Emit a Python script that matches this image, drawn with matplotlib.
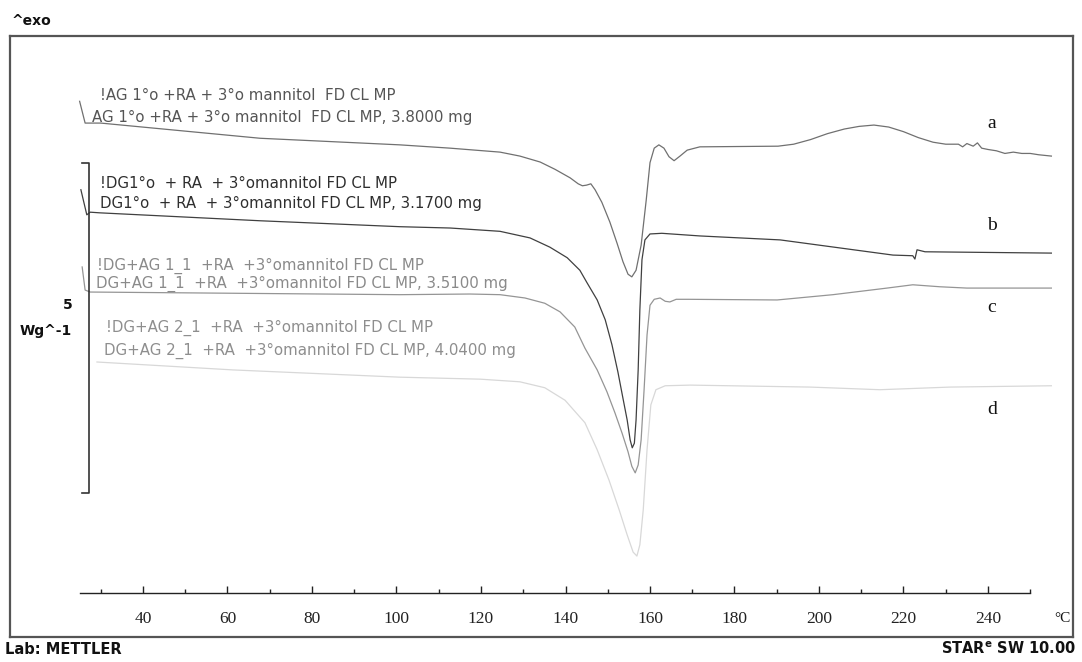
import numpy as np
import matplotlib.pyplot as plt
from matplotlib.ticker import FixedLocator

# DSC curves (temperature in degC, heat flow in W/g with offsets)
temp_a = [25.0, 26.3, 30.0, 67.7, 100.8, 112.7, 124.5, 129.2, 134.0, 137.5, 141.1, 143.0,
          144.0, 145.0, 146.0, 147.0, 148.6, 150.5, 152.2, 153.6, 154.8, 155.7, 156.7,
          157.9, 159.1, 160.0, 161.0, 162.1, 163.3, 164.5, 165.7, 167.1, 168.8, 171.8,
          190.3, 194.0, 198.0, 202.0, 206.0, 209.5, 213.0, 216.5, 220.0, 223.5, 227.0,
          230.0, 233.0, 234.0, 235.0, 236.5, 237.5, 238.5, 240.0, 242.0, 244.0, 246.0,
          248.0, 250.0, 252.0, 255.0]
hf_a = [7.45, 7.12, 7.12, 6.89, 6.79, 6.74, 6.68, 6.62, 6.53, 6.42, 6.29, 6.20,
        6.17, 6.18, 6.20, 6.11, 5.92, 5.62, 5.30, 5.02, 4.83, 4.79, 4.89,
        5.27, 5.95, 6.52, 6.74, 6.79, 6.74, 6.61, 6.55, 6.62, 6.71, 6.76,
        6.77, 6.80, 6.87, 6.96, 7.03, 7.07, 7.09, 7.06, 6.99, 6.90, 6.83,
        6.80, 6.80, 6.76, 6.81, 6.77, 6.82, 6.74, 6.72, 6.70, 6.66, 6.68,
        6.66, 6.66, 6.64, 6.62]

temp_b = [25.3, 26.7, 27.5, 29.8, 67.7, 100.8, 112.7, 124.5, 131.6, 136.3, 140.4, 143.4,
          145.1, 147.5, 149.4, 151.0, 152.4, 153.6, 154.6, 155.3, 155.8, 156.3, 156.7,
          157.2, 157.6, 158.1, 158.8, 160.0, 162.8, 171.8, 190.8, 217.5, 222.2, 222.7,
          223.2, 225.1, 255.0]
hf_b = [6.11, 5.73, 5.77, 5.76, 5.64, 5.55, 5.53, 5.48, 5.38, 5.24, 5.08, 4.89,
        4.70, 4.44, 4.14, 3.76, 3.35, 2.95, 2.62, 2.32, 2.20, 2.27, 2.62,
        3.38, 4.29, 5.05, 5.35, 5.44, 5.45, 5.41, 5.35, 5.12, 5.11, 5.06,
        5.20, 5.17, 5.15]

temp_c = [25.6, 26.3, 27.5, 100.8, 117.4, 124.5, 130.4, 135.1, 138.7, 142.2, 144.6, 147.5,
          149.8, 151.7, 153.4, 154.8, 155.7, 156.5, 157.2, 157.9, 158.6, 159.3, 160.0,
          161.0, 162.4, 163.6, 164.7, 166.2, 169.0, 190.1, 203.3, 216.1, 222.2, 228.6,
          235.0, 255.0]
hf_c = [4.94, 4.59, 4.56, 4.52, 4.53, 4.52, 4.47, 4.39, 4.26, 4.03, 3.71, 3.38,
        3.05, 2.73, 2.42, 2.14, 1.92, 1.82, 1.94, 2.32, 3.08, 3.91, 4.36,
        4.45, 4.47, 4.42, 4.41, 4.45, 4.45, 4.44, 4.52, 4.62, 4.67, 4.64,
        4.62, 4.62]

temp_d = [29.1, 61.3, 100.8, 119.8, 129.2, 135.1, 139.9, 144.6, 147.5, 150.3, 152.7, 154.6,
          156.0, 156.9, 157.6, 158.4, 159.3, 160.2, 161.4, 163.6, 169.5, 197.9, 214.4,
          231.0, 255.0]
hf_d = [3.50, 3.38, 3.27, 3.24, 3.20, 3.11, 2.92, 2.58, 2.17, 1.71, 1.26, 0.88,
        0.62, 0.56, 0.73, 1.26, 2.17, 2.85, 3.08, 3.14, 3.15, 3.12, 3.08,
        3.12, 3.14]

curve_letters = ['a', 'b', 'c', 'd']
curve_colors = ['#707070', '#404040', '#959595', '#d8d8d8']
sample_names = ['AG 1°o +RA + 3°o mannitol  FD CL MP',
                'DG1°o  + RA  + 3°omannitol FD CL MP',
                'DG+AG 1_1  +RA  +3°omannitol FD CL MP',
                'DG+AG 2_1  +RA  +3°omannitol FD CL MP']
sample_mass = ['3.8000', '3.1700', '3.5100', '4.0400']
text_colors = ['#555555', '#2e2e2e', '#8a8a8a', '#8e8e8e']

major_ticks = list(range(40, 241, 20))
minor_ticks = list(range(30, 251, 20))
scale_wg = 5

W, H = 1082, 662
fig = plt.figure(figsize=(W / 100, H / 100), dpi=100)
fig.patch.set_facecolor('white')

# outer frame
fr = fig.add_axes([10 / W, (H - 637) / H, 1063 / W, 601 / H])
fr.set_xticks([])
fr.set_yticks([])
for s in fr.spines.values():
    s.set_color('#555555')
    s.set_linewidth(1.6)

# data axes, bottom spine is the temperature axis
px_per_deg = 4.225
ax = fig.add_axes([10 / W, (H - 593) / H, 1063 / W, (593 - 36) / H])
ax.patch.set_alpha(0)
t_left = 40 - (143 - 10) / px_per_deg
t_right = 40 + (1073 - 143) / px_per_deg
ax.set_xlim(t_left, t_right)
ax.set_ylim(0, (593 - 36) / 66)
for side in ['top', 'left', 'right']:
    ax.spines[side].set_visible(False)
ax.spines['bottom'].set_bounds(25, 250)
ax.spines['bottom'].set_color('#222222')
ax.spines['bottom'].set_linewidth(1.0)
ax.set_yticks([])
ax.xaxis.set_major_locator(FixedLocator(major_ticks))
ax.xaxis.set_minor_locator(FixedLocator(minor_ticks))
ax.tick_params(axis='x', which='major', direction='in', length=5, width=1, colors='#222222',
               pad=13, labelsize=12.5)
ax.tick_params(axis='x', which='minor', direction='in', length=3, width=1, colors='#222222')
for lab in ax.get_xticklabels():
    lab.set_fontfamily('Liberation Serif')

temps = [temp_a, temp_b, temp_c, temp_d]
hfs = [hf_a, hf_b, hf_c, hf_d]
for t, h, c in zip(temps, hfs, curve_colors):
    ax.plot(t, h, color=c, lw=0.9)

# 5 W/g scale bar
bar_x = 40 + (89 - 143) / px_per_deg
bar_x0 = 40 + (82 - 143) / px_per_deg
bar_y0 = (593 - 493) / 66
ax.plot([bar_x0, bar_x, bar_x, bar_x0], [bar_y0 + scale_wg, bar_y0 + scale_wg, bar_y0, bar_y0],
        color='#333333', lw=1.2)

# curve letters
letter_y = [123, 225, 308, 409]
for L, y in zip(curve_letters, letter_y):
    fig.text(992 / W, 1 - y / H, L, fontsize=14, family='Liberation Serif',
             ha='center', va='center', color='#111111')

# sample labels
line1_pos = [(100, 96), (100, 184), (97, 266), (106, 328)]
line2_pos = [(92, 117), (100, 203), (96, 284), (104, 351)]
for name, m, col, p1, p2 in zip(sample_names, sample_mass, text_colors, line1_pos, line2_pos):
    fig.text(p1[0] / W, 1 - p1[1] / H, '!' + name, fontsize=10.8, color=col,
             family='DejaVu Sans', va='center', ha='left')
    fig.text(p2[0] / W, 1 - p2[1] / H, name + ', ' + m + ' mg', fontsize=10.8, color=col,
             family='DejaVu Sans', va='center', ha='left')

fig.text(12 / W, 1 - 21 / H, '^exo', fontsize=10, fontweight='bold', va='center', ha='left',
         color='#111111')
fig.text(73 / W, 1 - 305 / H, '5', fontsize=10, fontweight='bold', va='center', ha='right',
         color='#111111')
fig.text(20 / W, 1 - 331 / H, 'Wg^-1', fontsize=10, fontweight='bold', va='center', ha='left',
         color='#111111')
fig.text(1062 / W, 1 - 618 / H, '°C', fontsize=11, family='Liberation Serif', va='center',
         ha='center', color='#111111')
fig.text(5 / W, 1 - 649 / H, 'Lab: METTLER', fontsize=10.5, fontweight='bold', va='center',
         ha='left', color='#111111')
fig.text(1076 / W, 1 - 649 / H, r'STAR$^{\mathbf{e}}$ SW 10.00', fontsize=10.5,
         fontweight='bold', va='center', ha='right', color='#111111')

plt.savefig('out.png', dpi=100)
